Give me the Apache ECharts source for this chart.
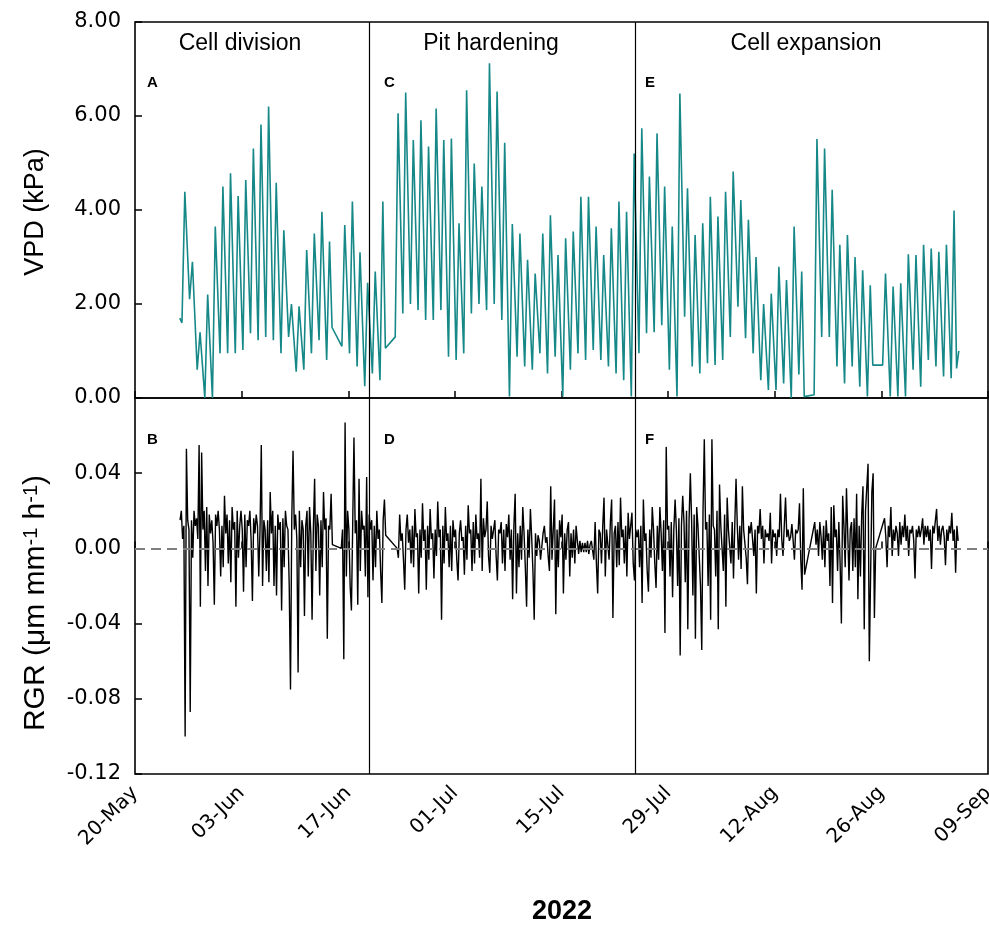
<!DOCTYPE html>
<html><head><meta charset="utf-8">
<script src="https://cdn.jsdelivr.net/npm/echarts@6/dist/echarts.min.js"></script>
<style>html,body{margin:0;padding:0;background:#fff}#c{width:989px;height:926px}</style>
</head><body><div id="c"></div>
<script>
// x values are days since 20-May-2022
const dateTicks = ['20-May','03-Jun','17-Jun','01-Jul','15-Jul','29-Jul','12-Aug','26-Aug','09-Sep'];
const stageNames = ['Cell division','Pit hardening','Cell expansion'];
const stageBounds = [30.72, 65.65];
const firstDay = 5;
// VPD (kPa): daily minimum (early morning) and maximum (afternoon), days 5..108
const vpdMin = [
 null,1.6,2.1,0.6,0,0,0.95,0.95,0.95,1.02,
 1.38,1.23,1.3,1.23,0.95,1.3,0.56,0.6,0.95,1.23,
 0.81,null,1.1,0.95,0.67,0.25,0.52,0.38,null,1.3,
 1.8,2.0,1.87,1.66,1.66,1.87,0.88,0.81,0.95,1.8,
 2.0,1.87,2.0,1.66,0.03,0.88,0.67,0.6,0.95,0.52,
 0.88,0.03,0.6,0.95,0.81,1.02,0.81,0.67,0.52,0.38,
 0.03,0.95,1.38,1.4,1.55,0.6,0.03,1.73,0.67,0.52,
 0.74,0.7,0.81,1.3,1.94,1.27,0.95,0.38,0.17,0.17,
 0.31,0,0.5,null,0.07,1.3,1.3,0.67,0.31,0.67,
 0.24,0.03,null,0.7,0.03,0.03,0.03,0.6,0.24,0.81,
 0.67,0.46,0.42,1.0];
const vpdMax = [
 null,4.39,2.9,1.4,2.2,3.65,4.5,4.78,4.3,4.64,
 5.31,5.82,6.2,4.58,3.57,2.0,1.95,3.15,3.5,3.96,
 3.33,null,3.68,4.18,3.1,2.45,2.69,4.18,null,6.06,
 6.5,5.49,5.91,5.35,6.16,5.49,5.52,3.72,6.55,4.99,
 4.5,7.12,6.52,5.43,3.7,3.5,2.94,2.65,3.5,3.89,
 3.04,3.4,3.54,4.28,4.28,3.65,3.04,3.61,4.18,3.96,
 5.2,5.74,4.71,5.63,4.5,3.65,6.48,4.46,3.47,3.72,
 4.28,3.86,4.39,4.82,4.21,3.79,3.0,2.0,2.22,2.79,
 2.51,3.65,2.69,null,5.51,5.31,4.43,3.26,3.47,3.0,
 2.72,2.4,null,2.65,2.37,2.44,3.06,3.04,3.26,3.18,
 3.11,3.26,3.99,null];
// evening readings before data gaps / at start
const vpdEveDays = [5,25,32,87,96,107];
const vpdEveVals = [1.7,1.5,1.06,0.03,0.7,0.63];
// RGR (um mm-1 h-1): readings at 02,06,10,14,18,22 h, days 5..108
const rgrHours = [2,6,10,14,18,22];
const rgr = [
 [null,null,null,null,null,.015],
 [.02,.005,.012,-.100,.053,.015],
 [.01,-.087,.015,-.005,.02,.012],
 [.016,.005,.055,-.031,.051,.01],
 [.02,-.012,.022,-.02,.018,.008],
 [.015,.003,-.03,.018,.012,.02],
 [.01,-.015,.012,-.01,.028,.008],
 [.018,-.008,.015,-.018,.022,.01],
 [.014,-.031,.02,-.005,.012,.02],
 [.01,-.023,.018,-.01,.015,.012],
 [.02,.004,-.028,.016,.008,.018],
 [.012,-.015,.01,.055,-.02,.015],
 [.01,-.012,.015,-.018,.03,.008],
 [.02,-.02,.012,-.025,.018,.01],
 [.014,-.033,.016,-.01,.02,.012],
 [.01,-.02,-.075,.015,.052,.01],
 [.018,.005,-.066,.02,-.01,.015],
 [.01,-.036,.012,.02,-.015,.022],
 [.008,-.038,.01,.037,-.012,.018],
 [.012,-.025,.015,-.01,.03,.01],
 [.016,-.048,.012,.01,.029,.002],
 null,
 [0,.01,-.059,.067,-.015,.02],
 [.01,-.02,-.033,.012,.059,.008],
 [.015,-.03,.037,-.012,.02,.01],
 [.012,-.015,.038,-.026,.018,.01],
 [.015,-.017,.012,-.01,.02,.005],
 [.01,-.012,-.029,.015,.026,.007],
 null,
 [null,null,0,-.005,.018,.004],
 [.008,-.006,-.022,.01,.018,.003],
 [.01,-.008,.012,-.01,.021,.006],
 [.008,-.024,.01,-.005,.024,.004],
 [.01,-.022,.012,-.006,.021,.005],
 [.008,-.016,.01,-.004,.025,.006],
 [.01,-.038,.012,-.008,.022,.004],
 [.008,-.01,.012,-.012,.015,.006],
 [.01,-.006,-.017,.008,.015,.004],
 [.006,-.014,.012,-.006,.023,.008],
 [.01,-.012,.014,-.008,.018,.005],
 [.008,-.005,.037,-.012,.016,.006],
 [.01,.025,-.004,-.013,.012,.005],
 [.006,.015,-.004,-.017,.01,.008],
 [.014,-.008,.01,-.012,.013,.006],
 [.018,-.006,.01,-.027,.012,.029],
 [-.024,.008,-.01,.012,-.006,.022],
 [.008,-.01,-.031,.01,-.005,.021],
 [.006,-.012,-.038,.008,-.004,.007],
 [.004,-.006,-.007,.008,.012,.003],
 [.006,-.004,-.012,.033,-.006,.01],
 [.026,-.035,.01,-.01,.015,.006],
 [.018,-.024,.008,-.006,.01,.014],
 [-.015,.008,-.005,.01,-.008,.012],
 [.004,-.003,.004,-.002,.003,-.002],
 [.003,-.002,.004,-.003,.002,.004],
 [.004,-.006,.014,-.008,-.024,.01],
 [.008,-.008,.012,.027,-.015,.01],
 [.01,-.006,.014,.026,-.037,.008],
 [.012,-.01,.014,-.009,.027,.006],
 [.01,-.008,.012,-.015,.019,.005],
 [.012,.019,-.008,-.017,.01,.006],
 [.01,-.01,.012,-.029,.026,.004],
 [.008,-.012,-.023,.01,-.005,.022],
 [.01,-.008,-.021,.012,-.006,.022],
 [.008,-.012,.015,-.045,.054,.01],
 [.012,-.015,.014,-.026,.01,.026],
 [.01,-.02,.016,-.057,.012,.028],
 [.014,-.018,.02,-.043,.015,.04],
 [.015,-.025,.018,-.048,.022,.012],
 [.012,-.02,-.054,.02,.058,.01],
 [.014,-.02,.018,-.038,.058,.012],
 [.01,-.015,.02,-.043,.034,.012],
 [.012,-.012,.018,-.031,.027,.01],
 [.01,-.008,.014,-.016,.012,.037],
 [.012,-.006,.012,-.011,.033,.01],
 [.01,-.005,-.019,.012,.008,.014],
 [.015,-.004,.01,-.024,.012,.008],
 [.021,.005,.012,-.008,.01,.006],
 [.008,.004,.019,-.008,.01,.006],
 [.008,-.004,.01,.006,.029,.005],
 [-.004,.012,.027,.006,.01,.004],
 [.006,.013,.004,-.006,.01,.008],
 [.01,.024,-.006,-.022,.032,-.014],
 null,
 [null,.014,.002,.01,-.004,.014],
 [.006,-.006,.012,-.01,.015,.004],
 [.008,-.02,.022,-.029,.023,.006],
 [.01,-.012,.014,-.008,-.04,.028],
 [.012,-.01,.032,.008,-.017,.01],
 [.014,-.012,.016,-.01,.029,-.027],
 [.012,-.015,.018,.033,-.043,.02],
 [.02,.045,-.06,-.06,.03,.04],
 [-.037,0,null,null,null,null],
 [null,null,.016,.006,-.01,.012],
 [.006,.022,-.004,.01,.004,.012],
 [.008,-.004,.014,.002,.012,.006],
 [.018,.004,.012,-.004,.01,.008],
 [.012,.004,-.016,.01,.006,.012],
 [.006,.01,.016,.002,.012,.006],
 [.012,.004,.01,-.011,.012,.008],
 [.008,.021,.004,.012,.002,.01],
 [.012,.006,-.009,.01,.004,.012],
 [.008,.019,.004,.01,-.013,.012],
 [.004,null,null,null,null,null]
];

// ---- build series data ----
const vpdData = [];
for (let i = 0; i < vpdMin.length; i++) {
  const day = firstDay + i;
  if (vpdMin[i] != null) vpdData.push([day + 4/24, vpdMin[i]]);
  if (vpdMax[i] != null) vpdData.push([day + 13/24, vpdMax[i]]);
  const k = vpdEveDays.indexOf(day);
  if (k >= 0) vpdData.push([day + 21/24, vpdEveVals[k]]);
}
const rgrData = [];
rgr.forEach((row, i) => {
  if (!row) return;
  const day = firstDay + i;
  row.forEach((v, j) => { if (v != null) rgrData.push([day + rgrHours[j]/24, v]); });
});

const chart = echarts.init(document.getElementById('c'), null, {renderer: 'canvas'});
const tickFont = {fontFamily: 'DejaVu Sans', fontSize: 21, color: '#000'};
const gridCommon = {left: 135, width: 853, height: 376, show: true, borderColor: '#000', borderWidth: 1.6,
  backgroundColor: 'transparent', containLabel: false, outerBoundsMode: 'none'};
const xCommon = {type: 'value', min: 0, max: 112, interval: 14,
  axisLine: {show: false}, splitLine: {show: false},
  axisTick: {show: true, inside: true, length: 7, lineStyle: {color: '#000', width: 1.5}}};
const yCommon = {type: 'value', axisLine: {show: false}, splitLine: {show: false},
  axisTick: {show: true, inside: true, length: 7, lineStyle: {color: '#000', width: 1.5}}};
const boundLines = stageBounds.map(b => ({xAxis: b}));

chart.setOption({
  animation: false,
  backgroundColor: '#fff',
  grid: [Object.assign({top: 22}, gridCommon), Object.assign({top: 398}, gridCommon)],
  xAxis: [
    Object.assign({gridIndex: 0, axisLabel: {show: false}}, xCommon),
    Object.assign({gridIndex: 1, axisLabel: {rotate: 45, margin: 16, fontSize: 20,
      fontFamily: 'DejaVu Sans', color: '#000', hideOverlap: false,
      formatter: v => dateTicks[Math.round(v / 14)] || ''}}, xCommon)
  ],
  yAxis: [
    Object.assign({gridIndex: 0, min: 0, max: 8, interval: 2,
      axisLabel: Object.assign({margin: 14, formatter: v => v.toFixed(2)}, tickFont)}, yCommon),
    Object.assign({gridIndex: 1, min: -0.12, max: 0.08, interval: 0.04,
      axisLabel: Object.assign({margin: 14, formatter: v => v > 0.07 ? '' : (Math.abs(v) < 1e-9 ? '0.00' : v.toFixed(2))}, tickFont)}, yCommon)
  ],
  series: [
    {type: 'line', xAxisIndex: 0, yAxisIndex: 0, data: vpdData, showSymbol: false,
      lineStyle: {color: '#168888', width: 1.6}, itemStyle: {color: '#168888'}, z: 3,
      markLine: {silent: true, symbol: 'none', label: {show: false},
        lineStyle: {color: '#000', width: 1.2, type: 'solid'}, data: boundLines}},
    {type: 'line', xAxisIndex: 1, yAxisIndex: 1, data: [], z: 1,
      markLine: {silent: true, symbol: 'none', label: {show: false},
        lineStyle: {color: '#7f7f7f', width: 2, type: [10, 6]}, data: [{yAxis: 0}]}},
    {type: 'line', xAxisIndex: 1, yAxisIndex: 1, data: rgrData, showSymbol: false,
      lineStyle: {color: '#000', width: 1.4}, itemStyle: {color: '#000'}, z: 3,
      markLine: {silent: true, symbol: 'none', label: {show: false},
        lineStyle: {color: '#000', width: 1.2, type: 'solid'}, data: boundLines}}
  ],
  graphic: [
    {type: 'text', x: 240, y: 44, style: {text: stageNames[0], fontFamily: 'Liberation Sans', fontSize: 23, fill: '#000', align: 'center', verticalAlign: 'middle'}},
    {type: 'text', x: 491, y: 44, style: {text: stageNames[1], fontFamily: 'Liberation Sans', fontSize: 23, fill: '#000', align: 'center', verticalAlign: 'middle'}},
    {type: 'text', x: 806, y: 44, style: {text: stageNames[2], fontFamily: 'Liberation Sans', fontSize: 23, fill: '#000', align: 'center', verticalAlign: 'middle'}},
    {type: 'text', x: 147, y: 83, style: {text: 'A', fontFamily: 'Liberation Sans', fontWeight: 'bold', fontSize: 15, fill: '#000', verticalAlign: 'middle'}},
    {type: 'text', x: 384, y: 83, style: {text: 'C', fontFamily: 'Liberation Sans', fontWeight: 'bold', fontSize: 15, fill: '#000', verticalAlign: 'middle'}},
    {type: 'text', x: 645, y: 83, style: {text: 'E', fontFamily: 'Liberation Sans', fontWeight: 'bold', fontSize: 15, fill: '#000', verticalAlign: 'middle'}},
    {type: 'text', x: 147, y: 440, style: {text: 'B', fontFamily: 'Liberation Sans', fontWeight: 'bold', fontSize: 15, fill: '#000', verticalAlign: 'middle'}},
    {type: 'text', x: 384, y: 440, style: {text: 'D', fontFamily: 'Liberation Sans', fontWeight: 'bold', fontSize: 15, fill: '#000', verticalAlign: 'middle'}},
    {type: 'text', x: 645, y: 440, style: {text: 'F', fontFamily: 'Liberation Sans', fontWeight: 'bold', fontSize: 15, fill: '#000', verticalAlign: 'middle'}},
    {type: 'text', x: 36, y: 212, rotation: Math.PI / 2, style: {text: 'VPD (kPa)', fontFamily: 'Liberation Sans', fontSize: 27, fill: '#000', align: 'center', verticalAlign: 'middle'}},
    {type: 'text', x: 36, y: 603, rotation: Math.PI / 2, style: {
      text: '{n|RGR (μm mm}{s|-1}{n| h}{s|-1}{n|)}', align: 'center', verticalAlign: 'middle',
      rich: {n: {fontFamily: 'Liberation Sans', fontSize: 30, fill: '#000', color: '#000'},
             s: {fontFamily: 'Liberation Sans', fontSize: 20, fill: '#000', color: '#000', verticalAlign: 'top'}}}},
    {type: 'text', x: 562, y: 912, style: {text: '2022', fontFamily: 'Liberation Sans', fontWeight: 'bold', fontSize: 27, fill: '#000', align: 'center', verticalAlign: 'middle'}}
  ]
});
</script>
</body></html>
